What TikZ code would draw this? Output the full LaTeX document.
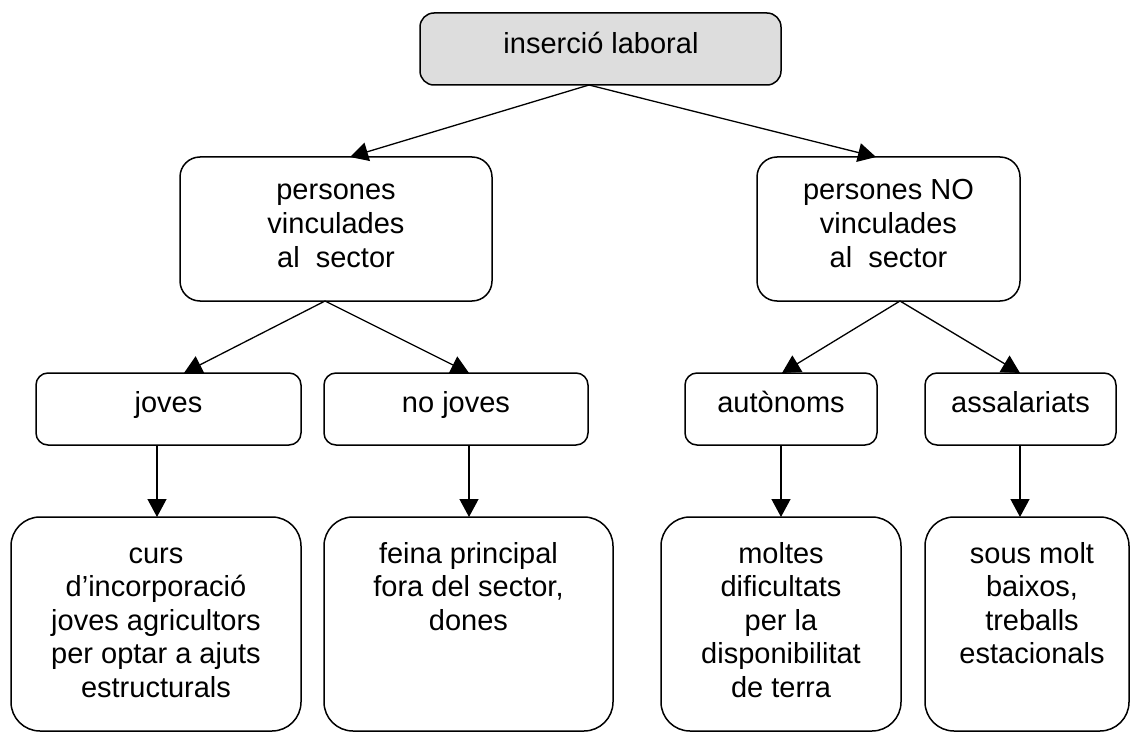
\documentclass[tikz,border=0pt]{standalone}
\usepackage{fontspec}
\setmainfont{Liberation Sans}
\usetikzlibrary{arrows.meta}
\definecolor{topgray}{RGB}{221,221,221}
\newcommand\mylines[1]{\begin{tabular}[t]{@{}c@{}}#1\end{tabular}}
\begin{document}
\begin{tikzpicture}[x=1pt,y=-1pt,
  box/.style={draw, line width=1.5pt, rounded corners=#1, inner sep=0pt, outer sep=0pt},
  box/.default=12pt,
  txt/.style={inner sep=0pt, anchor=base, font=\fontsize{29pt}{33.6pt}\selectfont},
  arr/.style={line width=1.3pt, -{Triangle[length=18pt,width=19pt]}}]
\path[use as bounding box, fill=white] (0,0) rectangle (1130,733);

% level 1
\node[box=14pt, fill=topgray, minimum width=361pt, minimum height=72pt] (top) at (600.5,49) {};
\node[txt] (ttop) at (601,54) {inserció laboral};

% level 2
\node[box=20pt, minimum width=312pt, minimum height=144pt] (l2a) at (336,229) {};
\node[txt] (tl2a) at (336,200) {\mylines{persones\\vinculades\\al\ \ sector}};
\node[box=20pt, minimum width=263pt, minimum height=144pt] (l2b) at (888.5,229) {};
\node[txt] (tl2b) at (888.5,200) {\mylines{persones NO\\vinculades\\al\ \ sector}};

% level 3
\node[box=12pt, minimum width=265pt, minimum height=72pt] (joves) at (168.5,409) {};
\node[txt] (tjoves) at (168.5,412) {joves};
\node[box=12pt, minimum width=264pt, minimum height=72pt] (nojoves) at (456,409) {};
\node[txt] (tnojoves) at (456,412) {no joves};
\node[box=12pt, minimum width=192pt, minimum height=72pt] (auto) at (781,409) {};
\node[txt] (tauto) at (781,412) {autònoms};
\node[box=12pt, minimum width=191pt, minimum height=72pt] (assal) at (1020.5,409) {};
\node[txt] (tassal) at (1020.5,412) {assalariats};

% level 4
\node[box=29pt, minimum width=290pt, minimum height=214pt] (b1) at (156,624) {};
\node[txt] (tb1) at (156,563) {\mylines{curs\\d’incorporació\\joves agricultors\\per optar a ajuts\\estructurals}};
\node[box=29pt, minimum width=289pt, minimum height=214pt] (b2) at (468.5,624) {};
\node[txt] (tb2) at (468.5,563) {\mylines{feina principal\\fora del sector,\\dones}};
\node[box=29pt, minimum width=240pt, minimum height=214pt] (b3) at (781,624) {};
\node[txt] (tb3) at (781,563) {\mylines{moltes\\dificultats\\per la\\disponibilitat\\de terra}};
\node[box=29pt, minimum width=204pt, minimum height=214pt] (b4) at (1027,624) {};
\node[txt] (tb4) at (1032,563) {\mylines{sous molt\\baixos,\\treballs\\estacionals}};

% connectors
\draw[arr] ([xshift=-11.5pt]top.south) -- ([xshift=14pt]l2a.north);
\draw[arr] ([xshift=-11.5pt]top.south) -- ([xshift=-12.5pt]l2b.north);
\draw[arr] ([xshift=-11pt]l2a.south) -- ([xshift=15.5pt]joves.north);
\draw[arr] ([xshift=-11pt]l2a.south) -- ([xshift=13pt]nojoves.north);
\draw[arr] ([xshift=11.5pt]l2b.south) -- ([xshift=1pt]auto.north);
\draw[arr] ([xshift=11.5pt]l2b.south) -- ([xshift=-0.5pt]assal.north);
\draw[arr] ([xshift=-11.5pt]joves.south) -- ([xshift=1pt]b1.north);
\draw[arr] ([xshift=13pt]nojoves.south) -- ([xshift=0.5pt]b2.north);
\draw[arr] (auto.south) -- (b3.north);
\draw[arr] ([xshift=-0.5pt]assal.south) -- ([xshift=-7pt]b4.north);
\end{tikzpicture}
\end{document}
